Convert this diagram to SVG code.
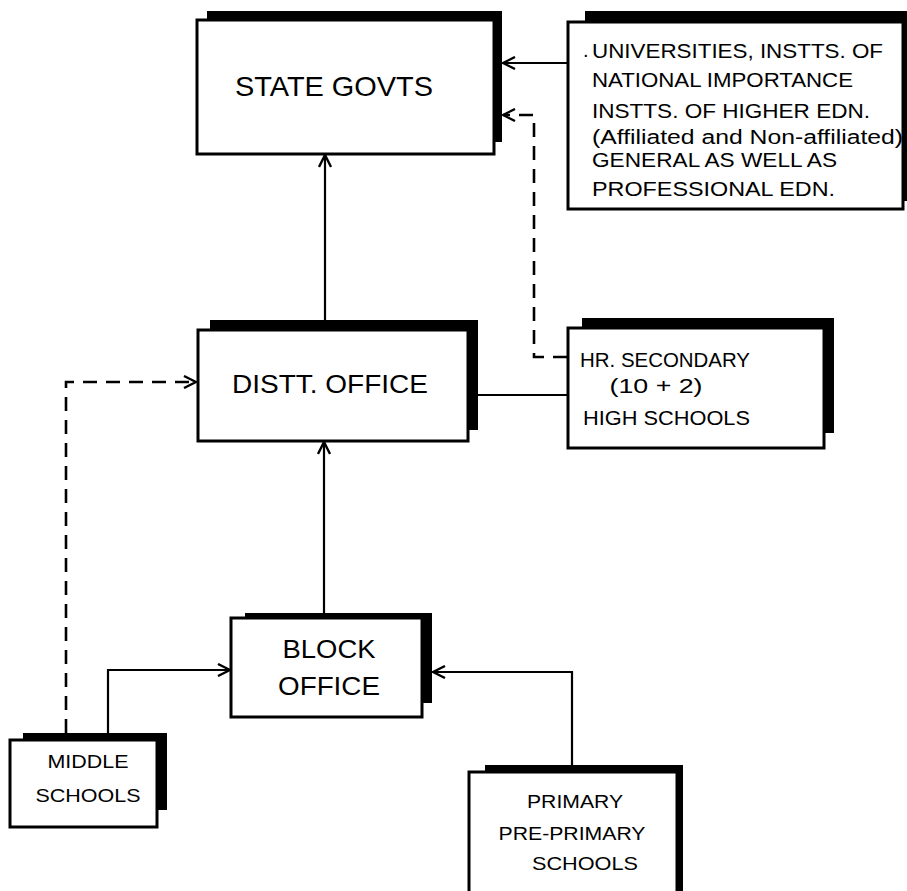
<svg xmlns="http://www.w3.org/2000/svg" width="907" height="891" viewBox="0 0 907 891">
<style>
.sh{fill:#000}
.bx{fill:#fff;stroke:#000;stroke-width:3}
.t{font-family:"Liberation Sans",Arial,sans-serif;fill:#000}
.ln{fill:none;stroke:#000;stroke-width:2.2}
.ds{fill:none;stroke:#000;stroke-width:2.6;stroke-dasharray:14 9}
</style>
<defs>
<marker id="ah" viewBox="0 0 14 14" refX="13" refY="7" markerWidth="14" markerHeight="14" markerUnits="userSpaceOnUse" orient="auto">
<path d="M1,1 L13,7 L1,13" fill="none" stroke="#000" stroke-width="2.4"/>
</marker>
</defs>
<rect width="907" height="891" fill="#fff"/>
<g id="connectors">
<line class="ln" x1="568" y1="63" x2="503" y2="63" marker-end="url(#ah)"/>
<polyline class="ds" points="567,357 534,357 534,115 503,115" marker-end="url(#ah)"/>
<line class="ln" x1="325" y1="320" x2="325" y2="155" marker-end="url(#ah)"/>
<line class="ln" x1="478" y1="395" x2="568" y2="395"/>
<polyline class="ds" points="66,733 66,382 196,382" marker-end="url(#ah)"/>
<line class="ln" x1="324" y1="613" x2="324" y2="442" marker-end="url(#ah)"/>
<polyline class="ln" points="108,733 108,670 230,670" marker-end="url(#ah)"/>
<polyline class="ln" points="572,765 572,672 433,672" marker-end="url(#ah)"/>
</g>
<g id="state-govts">
<rect class="sh" x="207" y="11" width="295" height="131"/>
<rect class="bx" x="197" y="20" width="297" height="134"/>
<text class="t" x="334" y="96" font-size="28" text-anchor="middle" textLength="198" lengthAdjust="spacingAndGlyphs">STATE GOVTS</text>
</g>
<g id="universities">
<rect class="sh" x="585" y="11" width="322" height="190"/>
<rect class="bx" x="568" y="22" width="335" height="187"/>
<text class="t" x="583" y="57" font-size="20">.</text>
<text class="t" x="592" y="58" font-size="21" textLength="291" lengthAdjust="spacingAndGlyphs">UNIVERSITIES, INSTTS. OF</text>
<text class="t" x="592" y="87" font-size="21" textLength="261" lengthAdjust="spacingAndGlyphs">NATIONAL IMPORTANCE</text>
<text class="t" x="592" y="118" font-size="21" textLength="278" lengthAdjust="spacingAndGlyphs">INSTTS. OF HIGHER EDN.</text>
<text class="t" x="592" y="144" font-size="20" textLength="311" lengthAdjust="spacingAndGlyphs">(Affiliated and Non-affiliated)</text>
<text class="t" x="592" y="167" font-size="20" textLength="245" lengthAdjust="spacingAndGlyphs">GENERAL AS WELL AS</text>
<text class="t" x="592" y="196" font-size="21" textLength="243" lengthAdjust="spacingAndGlyphs">PROFESSIONAL  EDN.</text>
</g>
<g id="distt-office">
<rect class="sh" x="210" y="320" width="268" height="110"/>
<rect class="bx" x="198" y="330" width="270" height="111"/>
<text class="t" x="330" y="393" font-size="25" text-anchor="middle" textLength="196" lengthAdjust="spacingAndGlyphs">DISTT. OFFICE</text>
</g>
<g id="hr-secondary">
<rect class="sh" x="582" y="318" width="252" height="115"/>
<rect class="bx" x="568" y="328" width="256" height="120"/>
<text class="t" x="580" y="367" font-size="20" textLength="170" lengthAdjust="spacingAndGlyphs">HR. SECONDARY</text>
<text class="t" x="656" y="393" font-size="20" text-anchor="middle" textLength="93" lengthAdjust="spacingAndGlyphs">(10 + 2)</text>
<text class="t" x="583" y="425" font-size="20" textLength="167" lengthAdjust="spacingAndGlyphs">HIGH SCHOOLS</text>
</g>
<g id="block-office">
<rect class="sh" x="245" y="613" width="187" height="90"/>
<rect class="bx" x="231" y="618" width="191" height="99"/>
<text class="t" x="329" y="658" font-size="26" text-anchor="middle" textLength="93" lengthAdjust="spacingAndGlyphs">BLOCK</text>
<text class="t" x="329" y="695" font-size="26" text-anchor="middle" textLength="102" lengthAdjust="spacingAndGlyphs">OFFICE</text>
</g>
<g id="middle-schools">
<rect class="sh" x="23" y="733" width="144" height="77"/>
<rect class="bx" x="10" y="740" width="147" height="87"/>
<text class="t" x="88" y="768" font-size="19" text-anchor="middle" textLength="81" lengthAdjust="spacingAndGlyphs">MIDDLE</text>
<text class="t" x="88" y="802" font-size="19" text-anchor="middle" textLength="105" lengthAdjust="spacingAndGlyphs">SCHOOLS</text>
</g>
<g id="primary-schools">
<rect class="sh" x="485" y="765" width="198" height="140"/>
<rect class="bx" x="469" y="772" width="208" height="130"/>
<text class="t" x="575" y="808" font-size="19" text-anchor="middle" textLength="96" lengthAdjust="spacingAndGlyphs">PRIMARY</text>
<text class="t" x="572" y="840" font-size="19" text-anchor="middle" textLength="147" lengthAdjust="spacingAndGlyphs">PRE-PRIMARY</text>
<text class="t" x="585" y="870" font-size="19" text-anchor="middle" textLength="106" lengthAdjust="spacingAndGlyphs">SCHOOLS</text>
</g>
</svg>
